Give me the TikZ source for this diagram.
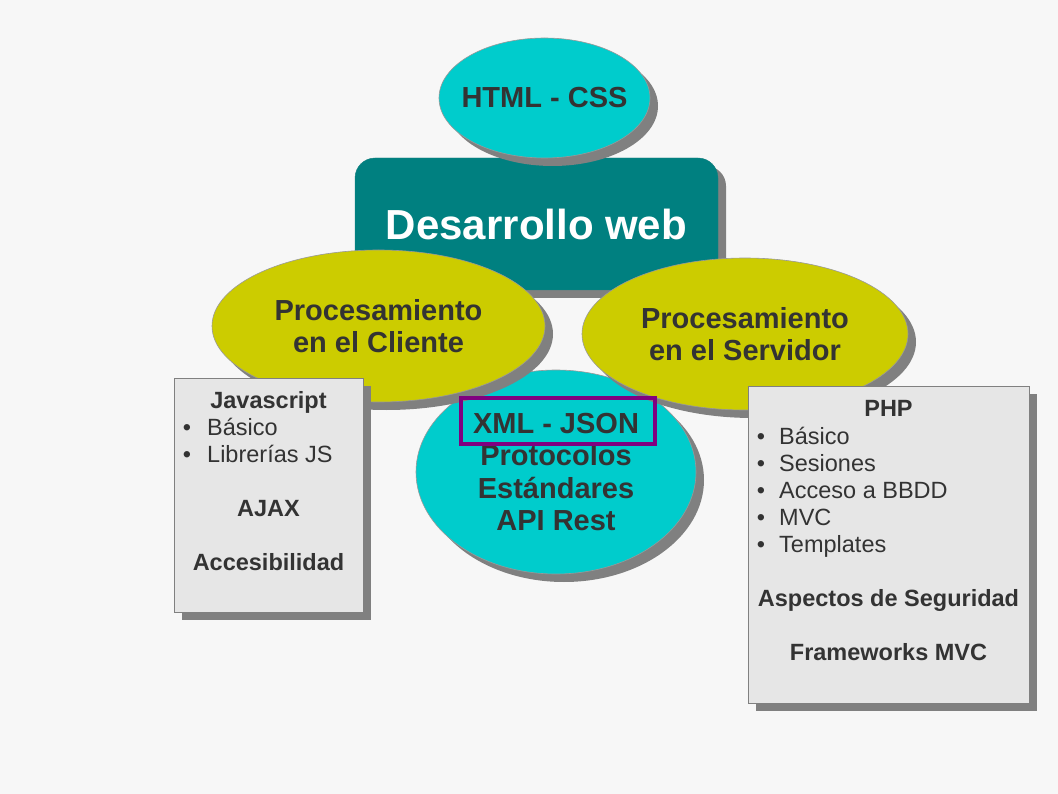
\documentclass[tikz,border=0pt]{standalone}
\usepackage{fontspec}
\setmainfont{Liberation Sans}
\usetikzlibrary{shapes.geometric,shadows}
\definecolor{bg}{HTML}{F7F7F7}
\definecolor{cyanfill}{HTML}{00CCCC}
\definecolor{yellowfill}{HTML}{CCCC00}
\definecolor{tealfill}{HTML}{008080}
\definecolor{boxfill}{HTML}{E6E6E6}
\definecolor{shadowgray}{HTML}{808080}
\definecolor{txt}{HTML}{333333}
\definecolor{frame}{HTML}{800080}
\tikzset{
  shd/.style={drop shadow={shadow xshift=8pt, shadow yshift=-8pt, fill=shadowgray, opacity=1}},
  ell/.style={ellipse, inner sep=0pt, draw=shadowgray!80, line width=0.6pt, shd, text=txt,
     font=\fontsize{29}{32.5}\selectfont\bfseries, align=center},
  infobox/.style={rectangle, fill=boxfill, draw=shadowgray, line width=0.8pt, shd, inner sep=0pt},
  boxhead/.style={anchor=base, text=txt, font=\fontsize{23.5}{27}\selectfont\bfseries, inner sep=0pt},
  boxitem/.style={anchor=base west, text=txt, font=\fontsize{23.5}{27}\selectfont, inner sep=0pt},
  bul/.style={anchor=base, text=txt, font=\fontsize{23.5}{27}\selectfont, inner sep=0pt},
}
\begin{document}
\begin{tikzpicture}[x=1pt,y=-1pt]
\fill[bg] (0,0) rectangle (1058,794);
\useasboundingbox (0,0) rectangle (1058,794);
% central rounded rectangle
\node[rectangle, rounded corners=20pt, fill=tealfill, draw=tealfill!80!gray, shd,
      minimum width=363pt, minimum height=132pt, inner sep=0pt, text=white,
      font=\fontsize{42}{48}\selectfont\bfseries] (dw) at (536.5,224) {Desarrollo web};
% middle ellipse
\node[ell, fill=cyanfill, minimum width=280pt, minimum height=204pt] (mid) at (556,472)
  {XML - JSON\\Protocolos\\Estándares\\API Rest};
% side ellipses
\node[ell, fill=yellowfill, minimum width=333pt, minimum height=152pt] (cli) at (378.5,326)
  {Procesamiento\\en el Cliente};
\node[ell, fill=yellowfill, minimum width=326pt, minimum height=152pt] (srv) at (745,334)
  {Procesamiento\\en el Servidor};
% top ellipse
\node[ell, fill=cyanfill, minimum width=211pt, minimum height=120pt, inner xsep=-20pt] (html) at (544.5,98)
  {HTML - CSS};
% highlight frame
\node[rectangle, draw=frame, line width=4pt, minimum width=194pt, minimum height=46pt, inner sep=0pt]
  (hl) at (558,421) {};
% left box
\node[infobox, minimum width=189pt, minimum height=234pt] (lbox) at (268.5,495) {};
\node[boxhead] (l1) at (268.5,408) {Javascript};
\node[bul] (lb1) at (187,435) {•};
\node[boxitem] (l2) at (207,435) {Básico};
\node[bul] (lb2) at (187,462) {•};
\node[boxitem] (l3) at (207,462) {Librerías JS};
\node[boxhead] (l4) at (268.5,516) {AJAX};
\node[boxhead] (l5) at (268.5,570) {Accesibilidad};
% right box
\node[infobox, minimum width=281pt, minimum height=317pt] (rbox) at (888.5,544.5) {};
\node[boxhead] (r1) at (888.5,417) {PHP};
\node[bul] (rb1) at (761,444) {•};
\node[boxitem] (r2) at (779,444) {Básico};
\node[bul] (rb2) at (761,471) {•};
\node[boxitem] (r3) at (779,471) {Sesiones};
\node[bul] (rb3) at (761,498) {•};
\node[boxitem] (r4) at (779,498) {Acceso a BBDD};
\node[bul] (rb4) at (761,525) {•};
\node[boxitem] (r5) at (779,525) {MVC};
\node[bul] (rb5) at (761,552) {•};
\node[boxitem] (r6) at (779,552) {Templates};
\node[boxhead] (r7) at (888.5,606) {Aspectos de Seguridad};
\node[boxhead] (r8) at (888.5,660) {Frameworks MVC};
\end{tikzpicture}
\end{document}
